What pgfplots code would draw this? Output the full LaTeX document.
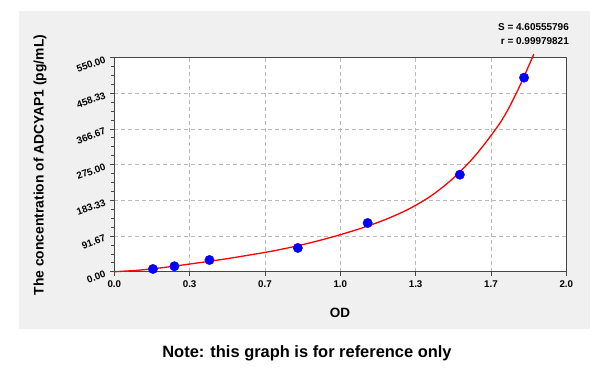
\documentclass[border=0pt]{standalone}
\usepackage{pgfplots}
\pgfplotsset{compat=1.18}
\usepackage{fontspec}
\setmainfont{Liberation Sans}
\definecolor{panelgray}{RGB}{240,240,240}
\definecolor{gridgray}{RGB}{185,185,185}
\definecolor{framegray}{RGB}{70,70,70}
\pgfplotstableread{
x y
0.171 7
0.266 14
0.421 30
0.812 61
1.121 125
1.529 249
1.813 498
}\pointdata
\pgfplotstableread{
x y
0.0 0
0.1 3.5
0.2 9.5
0.3 17
0.4 25
0.5 33.5
0.6 43
0.7 53
0.8 65
0.9 79
1.0 95
1.1 113
1.2 134
1.3 160
1.4 194
1.5 240
1.6 300
1.7 376
1.75 425
1.8 484
1.85 550
1.857 558
}\curvedata
\begin{document}
\begin{tikzpicture}[x=1bp,y=1bp]
\fill[white] (0,0) rectangle (600,371);
\fill[panelgray] (18.5,42) rectangle (590,360.2);
\begin{axis}[
  at={(114.3bp,99.3bp)}, anchor=south west,
  scale only axis, width=452bp, height=214.3bp,
  xmin=0, xmax=2, ymin=0, ymax=550,
  axis background/.style={fill=white},
  xtick={0,0.333333,0.666667,1,1.333333,1.666667,2},
  xticklabels={0.0,0.3,0.7,1.0,1.3,1.7,2.0},
  ytick={0,91.666667,183.333333,275,366.666667,458.333333,550},
  yticklabels={0.00,91.67,183.33,275.00,366.67,458.33,550.00},
  minor x tick num=3, minor y tick num=3,
  tick align=outside, tick pos=left,
  major tick length=4bp, minor tick length=3.5bp,
  tick style={framegray, line width=0.6bp},
  grid=major, grid style={gridgray, dash pattern=on 4bp off 3bp, line width=0.6bp},
  axis line style={framegray, line width=1bp},
  ticklabel style={font=\fontsize{9.8}{10}\selectfont\bfseries},
  xticklabel style={yshift=-1.5bp},
  yticklabel style={rotate=20, anchor=east, xshift=-2bp},
  clip=false,
  /pgf/number format/assume math mode=true,
]
\addplot[only marks, mark=*, mark size=4.7bp, color=blue, mark options={draw=blue, fill=blue}] table[x=x,y=y] {\pointdata};
\addplot[smooth, red, line width=1.3bp, no marks] table[x=x,y=y] {\curvedata};
\end{axis}
\node[rotate=90, font=\fontsize{13.9}{16}\selectfont\bfseries] at (40,206) {The concentration of ADCYAP1 (pg/mL)};
\node[font=\fontsize{13.5}{16}\selectfont\bfseries] at (340,58) {OD};
\node[anchor=east, font=\fontsize{10}{12}\selectfont\bfseries, inner sep=0pt] at (569,344) {S = 4.60555796};
\node[anchor=east, font=\fontsize{10}{12}\selectfont\bfseries, inner sep=0pt] at (569,330) {r = 0.99979821};
\node[font=\fontsize{16.5}{19}\selectfont\bfseries] at (307,18) {Note: this graph is for reference only};
\end{tikzpicture}
\end{document}
